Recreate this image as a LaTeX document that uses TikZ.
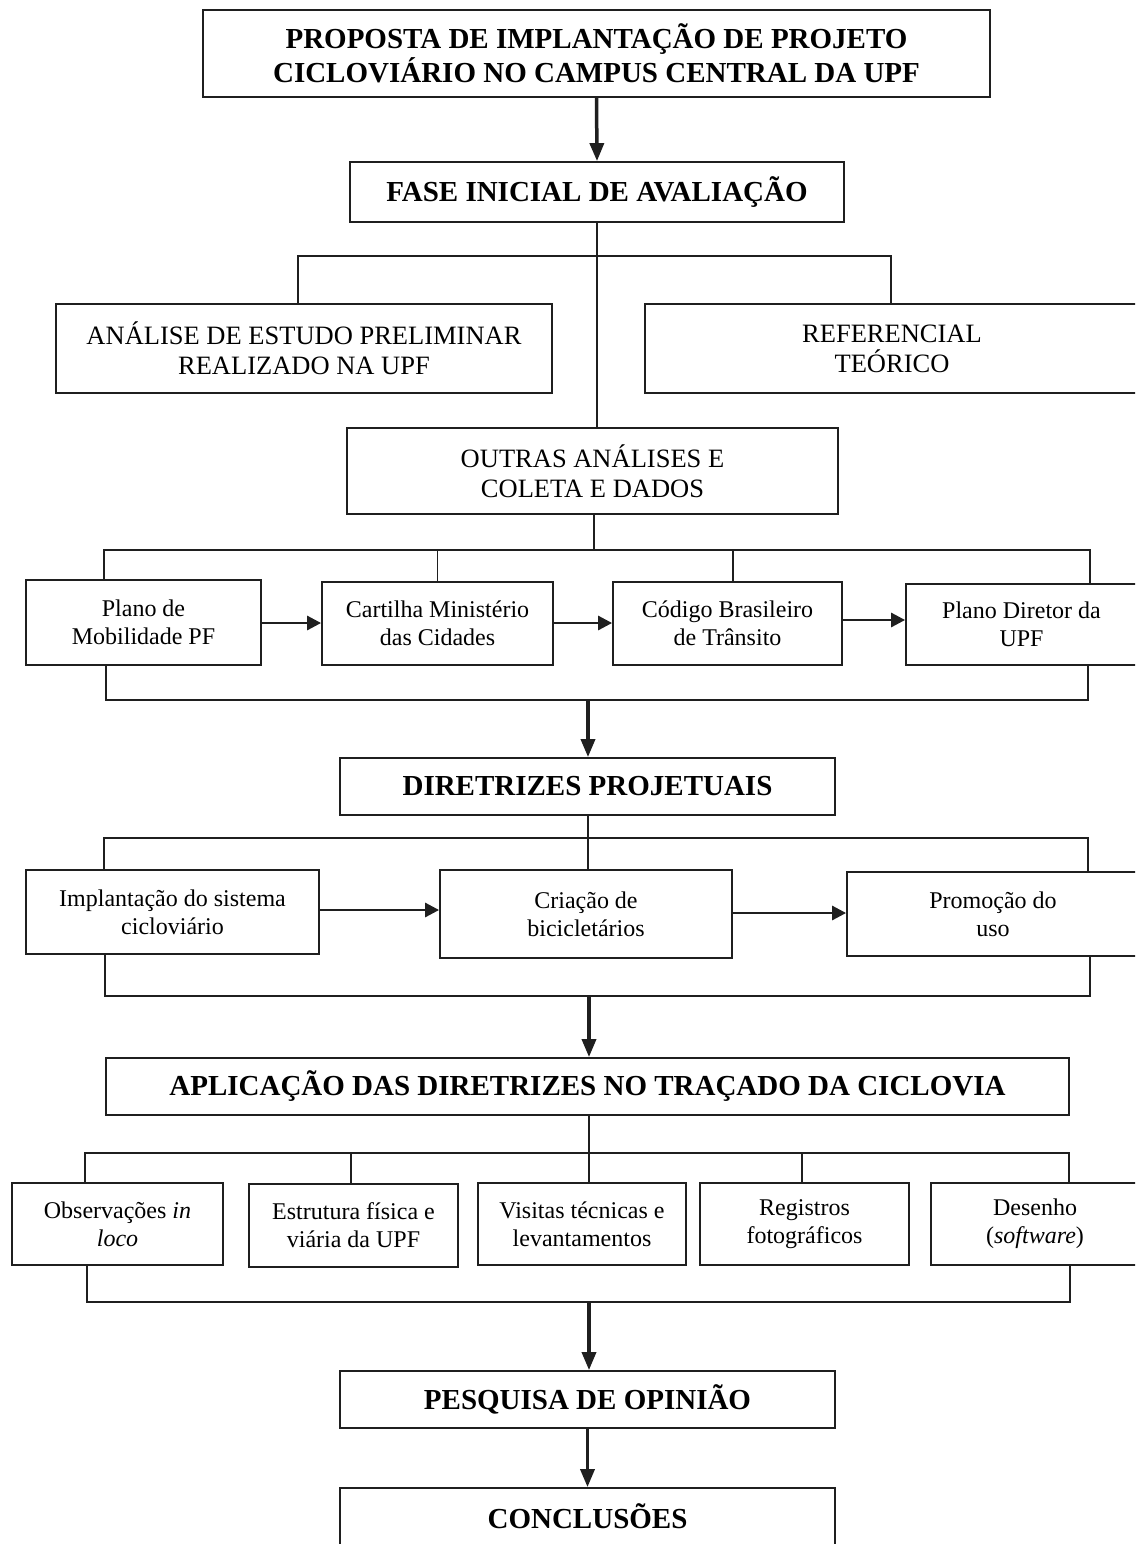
\documentclass[tikz,border=0pt]{standalone}
\usepackage{fontspec}
\setmainfont{Liberation Serif}
\usetikzlibrary{arrows.meta,calc}
\begin{document}
\begin{tikzpicture}[x=1pt,y=-1pt,
 box/.style={draw=black!88, line width=1.8pt, inner sep=0pt, align=center},
 titlebox/.style={box, font=\fontsize{29}{34}\selectfont\bfseries},
 midbox/.style={box, font=\fontsize{26.5}{30}\selectfont},
 smallbox/.style={box, font=\fontsize{24}{28}\selectfont},
 link/.style={line width=1.3pt, draw=black!88},
 bracket/.style={line width=2pt, draw=black!88},
 bigarrow/.style={line width=3.5pt, draw=black!88, -{Triangle[length=18pt,width=14pt]}},
 harrow/.style={line width=2.8pt, draw=black!88, -{Triangle[length=14pt,width=14pt]}},
]
\useasboundingbox (0,0) rectangle (1135,1544);
\fill[white] (0,0) rectangle (1135,1544);
\clip (0,0) rectangle (1135,1544);

% top level
\node[titlebox, minimum width=787pt, minimum height=87pt] (top) at (596.5,53.5)
 {PROPOSTA DE IMPLANTAÇÃO DE PROJETO\\CICLOVIÁRIO NO CAMPUS CENTRAL DA UPF};
\node[titlebox, minimum width=494pt, minimum height=60pt] (fase) at (597,192)
 {FASE INICIAL DE AVALIAÇÃO};
\node[midbox, minimum width=496pt, minimum height=89pt] (anal) at (304,348.5)
 {ANÁLISE DE ESTUDO PRELIMINAR\\REALIZADO NA UPF};
\node[midbox, minimum width=494pt, minimum height=89pt] (ref) at (892,348.5)
 {REFERENCIAL\\TEÓRICO};
\node[midbox, minimum width=491pt, minimum height=86pt] (outras) at (592.5,471)
 {OUTRAS ANÁLISES E\\COLETA E DADOS};

% row B
\node[smallbox, minimum width=235pt, minimum height=85pt] (b1) at (143.5,622.5)
 {Plano de\\Mobilidade PF};
\node[smallbox, minimum width=231pt, minimum height=83pt] (b2) at (437.5,623.5)
 {Cartilha Ministério\\das Cidades};
\node[smallbox, minimum width=229pt, minimum height=83pt] (b3) at (727.5,623.5)
 {Código Brasileiro\\de Trânsito};
\node[smallbox, minimum width=231pt, minimum height=81pt] (b4) at (1021.5,624.5)
 {Plano Diretor da\\UPF};

\node[titlebox, minimum width=495pt, minimum height=57pt] (dir) at (587.5,786.5)
 {DIRETRIZES PROJETUAIS};

% row C
\node[smallbox, minimum width=293pt, minimum height=84pt] (c1) at (172.5,912)
 {Implantação do sistema\\cicloviário};
\node[smallbox, minimum width=292pt, minimum height=88pt] (c2) at (586,914)
 {Criação de\\bicicletários};
\node[smallbox, minimum width=292pt, minimum height=84pt] (c3) at (993,914)
 {Promoção do\\uso};

\node[titlebox, minimum width=963pt, minimum height=57pt] (apl) at (587.5,1086.5)
 {APLICAÇÃO DAS DIRETRIZES NO TRAÇADO DA CICLOVIA};

% row D
\node[smallbox, minimum width=211pt, minimum height=82pt] (d1) at (117.5,1224)
 {Observações \textit{in}\\\textit{loco}};
\node[smallbox, minimum width=209pt, minimum height=83pt] (d2) at (353.5,1225.5)
 {Estrutura física e\\viária da UPF};
\node[smallbox, minimum width=208pt, minimum height=82pt] (d3) at (582,1224)
 {Visitas técnicas e\\levantamentos};
\node[smallbox, minimum width=209pt, minimum height=82pt] (d4) at (804.5,1224)
 {Registros\\fotográficos};
\node[smallbox, minimum width=208pt, minimum height=82pt] (d5) at (1035,1224)
 {Desenho\\(\textit{software})};

\node[titlebox, minimum width=495pt, minimum height=57pt] (pesq) at (587.5,1399.5)
 {PESQUISA DE OPINIÃO};
\node[titlebox, minimum width=495pt, minimum height=57pt] (conc) at (587.5,1516.5)
 {CONCLUSÕES};

% junction coordinates
\coordinate (j1) at (596,256);
\coordinate (j2) at (594,550);
\coordinate (j3) at (588,700);
\coordinate (j4) at (588,838);
\coordinate (j5) at (589,996);
\coordinate (j6) at (589,1153);
\coordinate (j7) at (589,1302);

% connectors
\draw[bigarrow] (top.south) -- (fase.north);
\draw[link] (fase.south) -- (fase.south |- outras.north);
\draw[link] ([xshift=-6pt]anal.north) |- (j1) -| ([xshift=-1pt]ref.north);

\draw[link] (outras.south -| j2) -- (j2);
\draw[bracket] ([xshift=-39.5pt]b1.north) |- (j2) -| ([xshift=68.5pt]b4.north);
\draw[link] (b2.north) -- (b2.north |- j2);
\draw[link] ([xshift=5.5pt]b3.north) -- ([xshift=5.5pt]b3.north |- j2);
\draw[harrow] (b1.east |- 0,623) -- (b2.west |- 0,623);
\draw[harrow] (b2.east |- 0,623) -- (b3.west |- 0,623);
\draw[harrow] (b3.east |- 0,620) -- (b4.west |- 0,620);
\draw[bracket] ([xshift=-37.5pt]b1.south) |- (j3) -| ([xshift=66.5pt]b4.south);
\draw[bigarrow] (j3) -- (dir.north -| j3);

\draw[link] (dir.south -| j4) -- (j4);
\draw[bracket] ([xshift=-68.5pt]c1.north) |- (j4) -| ([xshift=95pt]c3.north);
\draw[link] (c2.north -| j4) -- (j4);
\draw[harrow] (c1.east |- 0,910) -- (c2.west |- 0,910);
\draw[harrow] (c2.east |- 0,913) -- (c3.west |- 0,913);
\draw[bracket] ([xshift=-67.5pt]c1.south) |- (j5) -| ([xshift=97pt]c3.south);
\draw[bigarrow] (j5) -- (apl.north -| j5);

\draw[link] (apl.south -| j6) -- (j6);
\draw[bracket] ([xshift=-32.5pt]d1.north) |- (j6) -| ([xshift=34pt]d5.north);
\draw[link] ([xshift=-2.5pt]d2.north) -- ([xshift=-2.5pt]d2.north |- j6);
\draw[link] (d3.north -| j6) -- (j6);
\draw[link] ([xshift=-2.5pt]d4.north) -- ([xshift=-2.5pt]d4.north |- j6);
\draw[bracket] ([xshift=-30.5pt]d1.south) |- (j7) -| ([xshift=35pt]d5.south);
\draw[bigarrow] (j7) -- (pesq.north -| j7);
\draw[bigarrow] (pesq.south) -- (conc.north);
\end{tikzpicture}
\end{document}
